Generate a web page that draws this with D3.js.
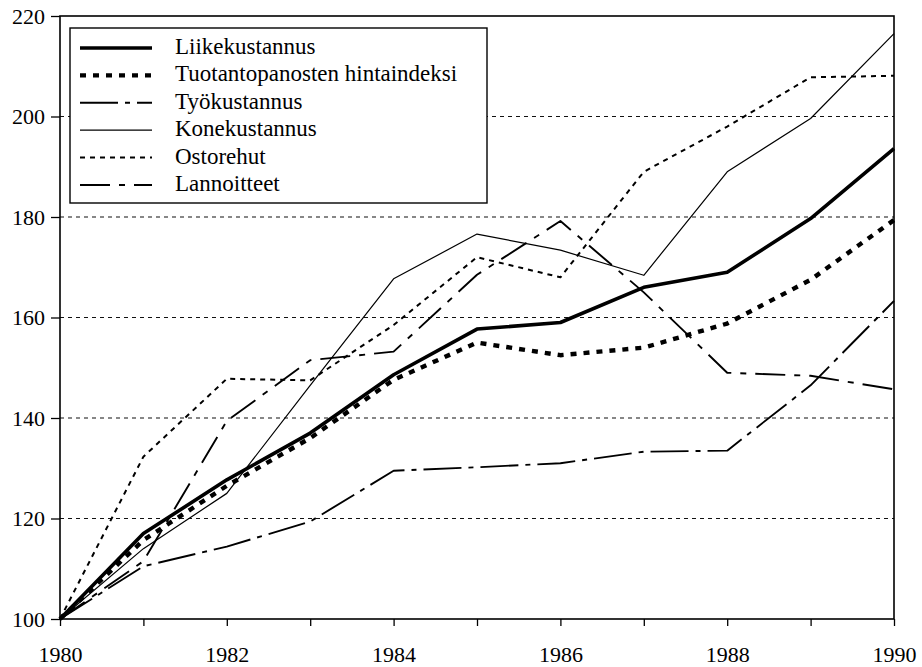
<!DOCTYPE html>
<html>
<head>
<meta charset="utf-8">
<script src="https://cdn.jsdelivr.net/npm/d3@7"></script>
<style>
  html, body { margin: 0; padding: 0; background: #fff; }
</style>
</head>
<body>
<svg id="chart" width="922" height="667"></svg>
<script>
// ---- data ----
const years = [1980, 1981, 1982, 1983, 1984, 1985, 1986, 1987, 1988, 1989, 1990];
const seriesNames = ["Liikekustannus", "Tuotantopanosten hintaindeksi", "Työkustannus", "Konekustannus", "Ostorehut", "Lannoitteet"];
const liikekustannus = [100, 117, 127.7, 137, 148.6, 157.7, 159, 166, 169, 179.7, 193.6];
const tuotantopanosten = [100, 115.7, 126.5, 136, 147.6, 155, 152.5, 154, 158.8, 167.5, 179.4];
const tyokustannus = [100, 110.5, 114.4, 119.4, 129.5, 130.2, 131, 133.3, 133.5, 146.5, 163.3];
const konekustannus = [100, 114, 125, 146.5, 167.7, 176.6, 173.4, 168.4, 189, 199.6, 216.5];
const ostorehut = [100, 132.3, 147.8, 147.5, 158.5, 172, 168, 189, 198, 207.8, 208.1];
const lannoitteet = [100, 111.5, 139.4, 151.5, 153.2, 168.5, 179.2, 165, 149, 148.4, 145.7];
const yTicks = [100, 120, 140, 160, 180, 200, 220];
const gridValues = [120, 140, 160, 180, 200];
const xLabelYears = [1980, 1982, 1984, 1986, 1988, 1990];

// ---- styles (kept separate from data) ----
const styles = [
  { width: 3.6, dash: null },
  { width: 4.4, dash: "6,7" },
  { width: 1.9, dash: "38,7,5,7" },
  { width: 1.2, dash: null },
  { width: 2.0, dash: "5,5" },
  { width: 1.9, dash: "30,9,6,9" }
];
const values = [liikekustannus, tuotantopanosten, tyokustannus, konekustannus, ostorehut, lannoitteet];
const serif = "'Liberation Serif', 'DejaVu Serif', 'Noto Serif', 'Times New Roman', Times, serif";

const svg = d3.select("#chart").style("font-family", serif);
const mLeft = 60, mRight = 894, mTop = 16, mBottom = 619;

const x = d3.scaleLinear().domain([1980, 1990]).range([mLeft, mRight]);
const y = d3.scaleLinear().domain([100, 220]).range([mBottom, mTop]);

// gridlines
svg.append("g").selectAll("line").data(gridValues).join("line")
  .attr("x1", mLeft).attr("x2", mRight)
  .attr("y1", d => y(d)).attr("y2", d => y(d))
  .attr("stroke", "#111").attr("stroke-width", 1.1).attr("stroke-dasharray", "4,4");

// y axis
const yAxis = svg.append("g").attr("transform", `translate(${mLeft},0)`)
  .call(d3.axisLeft(y).tickValues(yTicks).tickSize(9).tickSizeOuter(0).tickPadding(6).tickFormat(d3.format("d")));
yAxis.attr("font-family", serif).attr("font-size", 22);
yAxis.select(".domain").remove();
yAxis.selectAll("line").attr("stroke", "#000").attr("stroke-width", 1.3);
yAxis.selectAll("text").attr("fill", "#000");

// x axis
const xAxis = svg.append("g").attr("transform", `translate(0,${mBottom})`)
  .call(d3.axisBottom(x).tickValues(years).tickSize(7).tickSizeOuter(0).tickPadding(20)
    .tickFormat(d => xLabelYears.includes(d) ? String(d) : ""));
xAxis.attr("font-family", serif).attr("font-size", 22);
xAxis.select(".domain").remove();
xAxis.selectAll("line").attr("stroke", "#000").attr("stroke-width", 1.3);
xAxis.selectAll("text").attr("fill", "#000");

// frame
svg.append("rect").attr("x", mLeft).attr("y", mTop)
  .attr("width", mRight - mLeft).attr("height", mBottom - mTop)
  .attr("fill", "none").attr("stroke", "#000").attr("stroke-width", 1.6);

// lines
const line = d3.line().x((d, i) => x(years[i])).y(d => y(d));
svg.append("g").selectAll("path").data(values).join("path")
  .attr("d", d => line(d))
  .attr("fill", "none")
  .attr("stroke", "#000")
  .attr("stroke-linejoin", "round")
  .attr("stroke-width", (d, i) => styles[i].width)
  .attr("stroke-dasharray", (d, i) => styles[i].dash);

// legend
const lg = svg.append("g").attr("font-family", serif).attr("font-size", 23);
lg.append("rect").attr("x", 70).attr("y", 28).attr("width", 417).attr("height", 175)
  .attr("fill", "#fff").attr("stroke", "#000").attr("stroke-width", 1.4);
const rowY = i => 46 + i * 27.4;
seriesNames.forEach((name, i) => {
  lg.append("line").attr("x1", 80).attr("x2", 152)
    .attr("y1", rowY(i) + 2).attr("y2", rowY(i) + 2)
    .attr("stroke", "#000")
    .attr("stroke-width", styles[i].width)
    .attr("stroke-dasharray", styles[i].dash);
  lg.append("text").attr("x", 175).attr("y", rowY(i)).attr("dy", "0.35em")
    .attr("fill", "#000").text(name);
});
</script>
</body>
</html>
